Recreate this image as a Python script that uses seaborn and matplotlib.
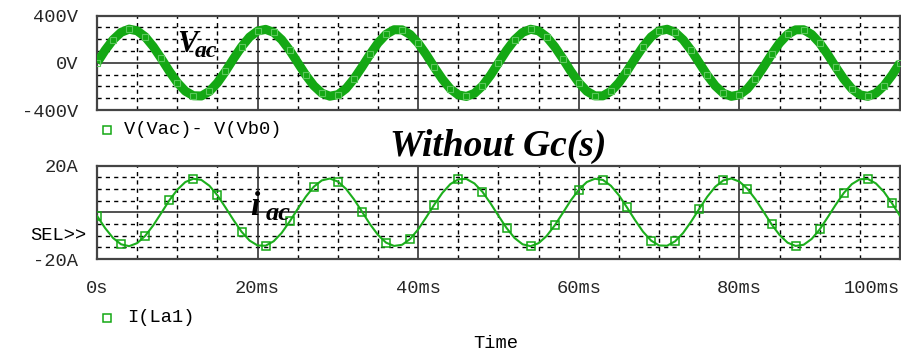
import numpy as np
import pandas as pd
import matplotlib
matplotlib.use("Agg")
import matplotlib.pyplot as plt
import matplotlib.transforms as mtransforms
from matplotlib.lines import Line2D
from matplotlib.ticker import MultipleLocator
import seaborn as sns

# ---------------- data ----------------
time_ms = list(range(0, 101))

v_ac = [0, 106, 196, 259, 286, 272, 221, 138, 37, -70, -167, -240, -279, -281, -242, -169, -72, 35, 136, 219, 270, 284, 259, 196, 106,
        1, -104, -194, -257, -283, -270, -219, -136, -35, 72, 169, 242, 281, 280, 240, 167, 70, -37, -138, -221, -272, -285, -259, -196, -106,
        0, 105, 195, 258, 285, 271, 220, 137, 36, -71, -168, -241, -280, -280, -241, -168, -71, 36, 137, 220, 271, 285, 258, 195, 105,
        0, -105, -195, -258, -284, -271, -220, -137, -36, 71, 168, 241, 280, 281, 241, 168, 71, -36, -137, -220, -271, -284, -258, -195, -105,
        0]

i_ac = [-1.5, -6.7, -11.0, -13.7, -14.5, -13.2, -10.1, -5.6, -0.3, 5.1, 9.7, 13.0, 14.4, 13.9, 11.4, 7.3, 2.1, -3.3, -8.3, -12.1,
        -14.2, -14.3, -12.4, -8.8, -3.9, 1.5, 6.7, 11.0, 13.7, 14.5, 13.2, 10.1, 5.6, 0.3, -5.1, -9.7, -13.0, -14.4, -13.9, -11.4,
        -7.3, -2.1, 3.3, 8.3, 12.1, 14.2, 14.3, 12.4, 8.8, 3.9,
        -1.5, -6.7, -11.0, -13.7, -14.5, -13.2, -10.1, -5.6, -0.3, 5.1, 9.7, 13.0, 14.4, 13.9, 11.4, 7.3, 2.1, -3.3, -8.3, -12.1,
        -14.2, -14.3, -12.4, -8.8, -3.9, 1.5, 6.7, 11.0, 13.7, 14.5, 13.2, 10.1, 5.6, 0.3, -5.1, -9.7, -13.0, -14.4, -13.9, -11.4,
        -7.3, -2.1, 3.3, 8.3, 12.1, 14.2, 14.3, 12.4, 8.8, 3.9,
        -1.5]

x_ticks = [0, 20, 40, 60, 80, 100]
x_labels = ["0s", "20ms", "40ms", "60ms", "80ms", "100ms"]
v_ticks = [-400, 0, 400]
v_labels = ["-400V", "0V", "400V"]
v_grid = [-300, -200, -100, 100, 200, 300]
i_ticks = [-20, 20]
i_labels = ["-20A", "20A"]
i_grid = [-15, -10, -5, 5, 10, 15]

legend_v = "V(Vac)- V(Vb0)"
legend_i = "I(La1)"

# ---------------- style ----------------
sns.set_style("white")
plt.rcParams["font.family"] = ["Liberation Mono", "DejaVu Sans"]
plt.rcParams["text.color"] = "black"

GREEN = "#14a814"
LGREEN = "#5cc85c"
W, H = 901, 356
FS = 13.5

fig = plt.figure(figsize=(W / 100, H / 100), dpi=100)


def rect(l, t, r, b):
    return [l / W, 1 - b / H, (r - l) / W, (b - t) / H]


ax1 = fig.add_axes(rect(97, 15.7, 900, 110))
ax2 = fig.add_axes(rect(97, 165.7, 900, 259))

df = pd.DataFrame({"t": time_ms, "v": v_ac, "i": i_ac})

DASH = (0, (3, 3))


def style(ax, ylim, grid_y, yt, yl, show_x):
    ax.set_xlim(0, 100)
    ax.set_ylim(*ylim)
    for g in grid_y:
        ax.axhline(g, color="black", lw=1.0, ls=DASH, zorder=1)
    ax.axhline(0, color="#333333", lw=1.2, zorder=1)
    for x in range(5, 100, 5):
        if x % 20:
            ax.axvline(x, color="black", lw=1.0, ls=DASH, zorder=1)
        else:
            ax.axvline(x, color="#333333", lw=1.2, zorder=1)
    for s in ax.spines.values():
        s.set_color("#444444")
        s.set_linewidth(1.6)
    ax.set_xticks(x_ticks)
    ax.xaxis.set_minor_locator(MultipleLocator(5))
    if show_x:
        ax.set_xticklabels(x_labels)
        ax.tick_params(axis="x", which="major", direction="out", length=7, width=1.2,
                       color="#333333", labelsize=FS, pad=8)
        lbls = ax.get_xticklabels()
        lbls[-1].set_horizontalalignment("right")
    else:
        ax.set_xticklabels([])
        ax.tick_params(axis="x", which="major", direction="out", length=2.5, width=1.2, color="#333333")
    ax.tick_params(axis="x", which="minor", direction="out", length=2.5, width=1.0, color="#333333")
    ax.set_yticks(yt)
    ax.set_yticklabels(yl)
    ax.tick_params(axis="y", direction="out", length=6.5, width=1.2, color="#333333",
                   labelsize=FS, pad=7)


style(ax1, (-400, 400), v_grid, v_ticks, v_labels, False)
style(ax2, (-20, 20), i_grid, i_ticks, i_labels, True)

# voltage: thick band with light square marks
sns.lineplot(data=df, x="t", y="v", ax=ax1, color=GREEN, lw=6.5, zorder=3,
             solid_joinstyle="round", solid_capstyle="butt")
sns.lineplot(data=df, x="t", y="v", ax=ax1, color=GREEN, lw=0, zorder=4,
             marker="s", markevery=2, markersize=4, markerfacecolor="none",
             markeredgecolor=LGREEN, markeredgewidth=0.8)

# current: thin line with hollow square markers
sns.lineplot(data=df, x="t", y="i", ax=ax2, color="#1cae1c", lw=1.5, zorder=3,
             marker="s", markevery=3, markersize=6, markerfacecolor="none",
             markeredgecolor=GREEN, markeredgewidth=1.1)

for a in (ax1, ax2):
    a.set_xlabel("")
    a.set_ylabel("")

# SEL>> marker text
trans = mtransforms.blended_transform_factory(ax2.transAxes, ax2.transData)
ax2.text(-0.013, -10, "SEL>>", transform=trans, ha="right", va="center", fontsize=FS)

# legends
fig.add_artist(Line2D([107 / W], [1 - 130 / H], marker="s", ms=6, mfc="none",
                      mec=GREEN, mew=1.1, transform=fig.transFigure))
fig.text(124 / W, 1 - 130 / H, legend_v, ha="left", va="center", fontsize=FS)
fig.add_artist(Line2D([107 / W], [1 - 318 / H], marker="s", ms=6, mfc="none",
                      mec=GREEN, mew=1.1, transform=fig.transFigure))
fig.text(127 / W, 1 - 318 / H, legend_i, ha="left", va="center", fontsize=FS)
fig.text(473 / W, 1 - 343 / H, "Time", ha="left", va="center", fontsize=FS)

# annotations
serif = dict(family="Liberation Serif", weight="bold", style="italic", color="black")
fig.text(498 / W, 1 - 146 / H, "Without Gc(s)", ha="center", va="center", fontsize=27, **serif)
fig.text(177 / W, 1 - 52 / H, "V", ha="left", va="baseline", fontsize=22, **serif)
fig.text(195 / W, 1 - 57 / H, "ac", ha="left", va="baseline", fontsize=17, **serif)
fig.text(250 / W, 1 - 215 / H, "i", ha="left", va="baseline", fontsize=24, **serif)
fig.text(266 / W, 1 - 220 / H, "ac", ha="left", va="baseline", fontsize=19, **serif)

fig.savefig("out.png", dpi=100)
